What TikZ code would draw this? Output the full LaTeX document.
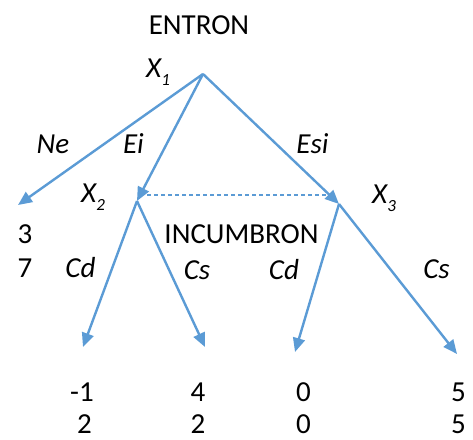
\documentclass[tikz,border=0pt]{standalone}
\usepackage{fontspec}
\setmainfont{Carlito}
\usetikzlibrary{arrows.meta}
\definecolor{arrowblue}{HTML}{5B9BD5}
\newcommand\xsub[2]{\textit{#1}\raisebox{-8pt}{\fontsize{17}{17}\selectfont\textit{#2}}}
\begin{document}
\begin{tikzpicture}[x=1pt,y=-1pt,
  lbl/.style={inner sep=0pt, anchor=base, font=\fontsize{29}{29}\selectfont},
  ilbl/.style={inner sep=0pt, anchor=base, font=\fontsize{29}{29}\selectfont\itshape},
  edge/.style={draw=arrowblue, line width=2.4pt, -{Triangle[length=14pt,width=12pt]}},
  info/.style={draw=arrowblue, line width=1.3pt, dash pattern=on 4pt off 3pt}]
\useasboundingbox (0,0) rectangle (473,439);
% points
\coordinate (r) at (203,74);
\coordinate (ne) at (18,205);
\coordinate (x2) at (137,201);
\coordinate (x3) at (339,204);
\coordinate (t1) at (83,347);
\coordinate (t2) at (205,347);
\coordinate (t3) at (295,352);
\coordinate (t4) at (457,354);
\coordinate (d1) at (147,195);
\coordinate (d2) at (329,195);
% connectors
\draw[info] (d1) -- (d2);
\draw[edge] (r) -- (ne);
\draw[edge] (r) -- (x2);
\draw[edge] (r) -- (x3);
\draw[edge] (x2) -- (t1);
\draw[edge] (x2) -- (t2);
\draw[edge] (x3) -- (t3);
\draw[edge] (x3) -- (t4);
% labels
\node[lbl] (entron) at (199,34) {ENTRON};
\node[ilbl, anchor=base west] (lx1) at (146,77) {\xsub{X}{1}};
\node[ilbl] (lne) at (53,153) {Ne};
\node[ilbl] (lei) at (133.5,153) {Ei};
\node[ilbl] (lesi) at (312.5,153) {Esi};
\node[ilbl, anchor=base west] (lx2) at (81,202) {\xsub{X}{2}};
\node[ilbl, anchor=base west] (lx3) at (372,203) {\xsub{X}{3}};
\node[lbl] (p0a) at (25,243) {3};
\node[lbl] (p0b) at (25,277) {7};
\node[lbl] (inc) at (241.5,243) {INCUMBRON};
\node[ilbl] (cd1) at (80.5,277) {Cd};
\node[ilbl] (cs1) at (197,279) {Cs};
\node[ilbl] (cd2) at (284,279) {Cd};
\node[ilbl] (cs2) at (436.5,278) {Cs};
\node[lbl] (p1a) at (82,401) {-1};
\node[lbl] (p1b) at (84.5,433) {2};
\node[lbl] (p2a) at (198,401) {4};
\node[lbl] (p2b) at (198,433) {2};
\node[lbl] (p3a) at (303.5,401) {0};
\node[lbl] (p3b) at (303.5,433) {0};
\node[lbl] (p4a) at (458.5,401) {5};
\node[lbl] (p4b) at (458.5,433) {5};
\end{tikzpicture}
\end{document}
